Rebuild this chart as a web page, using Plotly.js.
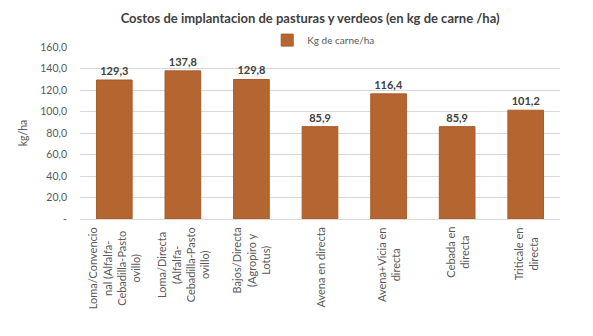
<!DOCTYPE html>
<html><head><meta charset="utf-8">
<script src="https://cdn.plot.ly/plotly-3.0.1.min.js"></script>
<style>body{margin:0;background:#fff}#c{width:593px;height:336px}</style>
</head><body><div id="c"></div>
<script>
const categories = [
  "Loma/Convencio<br>nal (Alfalfa-<br>Cebadilla-Pasto<br>ovillo)",
  "Loma/Directa<br>(Alfalfa-<br>Cebadilla-Pasto<br>ovillo)",
  "Bajos/Directa<br>(Agropiro y<br>Lotus)",
  "Avena en directa",
  "Avena+Vicia en<br>directa",
  "Cebada en<br>directa",
  "Triticale en<br>directa"
];
const values = [129.3, 137.8, 129.8, 85.9, 116.4, 85.9, 101.2];
const seriesName = "Kg de carne/ha";
const yTickVals = [0, 20, 40, 60, 80, 100, 120, 140, 160];
const yTickText = ["-", "20,0", "40,0", "60,0", "80,0", "100,0", "120,0", "140,0", "160,0"];

const fmt = v => v.toFixed(1).replace('.', ',');
const font = "Lato, Open Sans, sans-serif";

const labelAnns = categories.map(c => ({
  x: c, xref: 'x', y: 0, yref: 'paper', yshift: -6,
  text: c, showarrow: false, textangle: -90,
  xanchor: 'center', yanchor: 'top', align: 'center',
  font: {family: font, size: 11, color: '#595959'}
}));

Plotly.newPlot('c', [{
  type: 'bar',
  x: categories,
  y: values,
  name: seriesName,
  marker: {color: '#b5652f', line: {color: '#a85b2a', width: 1}},
  text: values.map(fmt),
  textposition: 'outside',
  cliponaxis: false,
  textfont: {family: font, size: 11, color: '#404040', weight: 'bold'}
}], {
  width: 593, height: 336,
  margin: {l: 80, r: 33, t: 47, b: 117},
  paper_bgcolor: '#fff', plot_bgcolor: '#fff',
  font: {family: font, color: '#595959'},
  title: {text: '<b>Costos de implantacion de pasturas y verdeos (en kg de carne /ha)</b>', font: {family: font, size: 13, color: '#404040'}, x: 0.523, xanchor: 'center', y: 0.946, yanchor: 'middle'},
  showlegend: true,
  legend: {orientation: 'h', x: 0.39, xanchor: 'left', y: 1.04, yanchor: 'middle', itemwidth: 30, font: {size: 10, color: '#595959'}, bgcolor: 'rgba(0,0,0,0)'},
  bargap: 0.48,
  annotations: labelAnns,
  xaxis: {showticklabels: false, showline: true, linecolor: '#d9d9d9', ticks: '', showgrid: false},
  yaxis: {range: [0, 160], tickvals: yTickVals, ticktext: yTickText, tickfont: {size: 10.5, color: '#595959'}, gridcolor: '#d9d9d9', zeroline: false, ticks: '', ticklabelstandoff: 12,
    title: {text: 'kg/ha', font: {size: 10.5, color: '#595959'}, standoff: 10}}
}, {displayModeBar: false});
</script></body></html>
